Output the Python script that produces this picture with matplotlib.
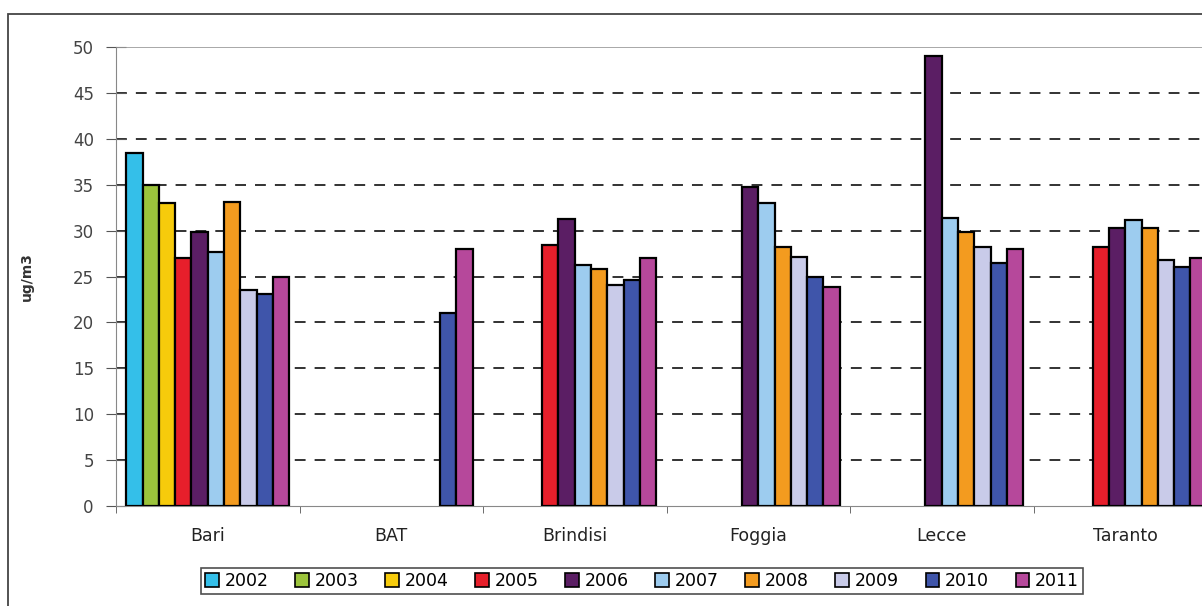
import numpy as np
import matplotlib
matplotlib.use("Agg")
from matplotlib import pyplot as plt
from matplotlib.patches import Rectangle

# Data (ug/m3), nan = no value
provinces = ["Bari", "BAT", "Brindisi", "Foggia", "Lecce", "Taranto"]
years = ["2002", "2003", "2004", "2005", "2006", "2007", "2008", "2009", "2010", "2011"]
nan = np.nan
v2002 = [38.4, nan, nan, nan, nan, nan]
v2003 = [35.0, nan, nan, nan, nan, nan]
v2004 = [33.0, nan, nan, nan, nan, nan]
v2005 = [27.0, nan, 28.4, nan, nan, 28.2]
v2006 = [29.9, nan, 31.3, 34.8, 49.0, 30.3]
v2007 = [27.7, nan, 26.3, 33.0, 31.4, 31.2]
v2008 = [33.1, nan, 25.8, 28.2, 29.8, 30.3]
v2009 = [23.5, nan, 24.1, 27.1, 28.2, 26.8]
v2010 = [23.1, 21.0, 24.6, 25.0, 26.5, 26.0]
v2011 = [25.0, 28.0, 27.0, 23.9, 28.0, 27.0]
series = [v2002, v2003, v2004, v2005, v2006, v2007, v2008, v2009, v2010, v2011]
colors = ["#34BFE9", "#9CC43C", "#F6CB0C", "#E71F2B", "#5B1E64",
          "#9DCCEF", "#F39B1F", "#C9CBE9", "#3F55AA", "#B6489B"]
y_ticks = list(range(0, 55, 5))

plt.rcParams['font.family'] = ['DejaVu Sans']
fig = plt.figure(figsize=(12.02, 6.06), dpi=100)

# outer chart frame (cut on the right and bottom like the reference)
fig.patches.append(Rectangle((8 / 1202, -0.1), 1.2, 1 - 14 / 606 + 0.1,
                             transform=fig.transFigure, fill=False,
                             edgecolor="#444444", linewidth=1.3))

ax = fig.add_axes([116 / 1202, 1 - 506 / 606, 1101 / 1202, 459 / 606])

x = np.arange(len(provinces))
group = 0.886
w = group / len(series)
for i, (vals, col, yr) in enumerate(zip(series, colors, years)):
    pos = x - group / 2 + w * (i + 0.5)
    ax.bar(pos, np.array(vals, dtype=float), width=w, color=col,
           edgecolor="black", linewidth=1.6, label=yr, zorder=3)

ax.set_xlim(-0.5, len(provinces) - 0.5)
ax.set_ylim(0, 50)
ax.set_yticks(y_ticks)
ax.set_yticklabels([str(t) for t in y_ticks], fontsize=12, color="#444444")
for t in y_ticks[1:-1]:
    ax.axhline(t, color="#222222", linewidth=1.3, dashes=(6, 5), zorder=1)
ax.axhline(50, color="#999999", linewidth=1.2, zorder=2)

ax.set_xticks(x)
ax.set_xticklabels(provinces, fontsize=12.5, color="#222222")
ax.set_xticks(np.arange(len(provinces) + 1) - 0.5, minor=True)
ax.tick_params(axis="x", which="major", length=0, pad=15)
ax.tick_params(axis="x", which="minor", length=5, color="#555555")
ax.tick_params(axis="y", direction="inout", length=14, color="#555555", pad=9)

for s in ["top", "right"]:
    ax.spines[s].set_visible(False)
ax.spines["left"].set_color("#888888")
ax.spines["bottom"].set_color("#888888")

fig.text(27 / 1202, 1 - 277 / 606, "ug/m3", rotation=90, fontsize=10,
         fontweight="bold", ha="center", va="center", color="#333333")

leg = fig.legend(loc="center", bbox_to_anchor=(642 / 1202, 1 - 581 / 606),
                 ncol=10, fontsize=12.5, frameon=True, fancybox=False,
                 handlelength=0.8, handleheight=0.8, handletextpad=0.3,
                 columnspacing=1.55, borderpad=0.25)
leg.get_frame().set_edgecolor("#222222")
leg.get_frame().set_linewidth(1.2)
for h in leg.legend_handles:
    h.set_linewidth(1.2)

fig.savefig("out.png", dpi=100)
